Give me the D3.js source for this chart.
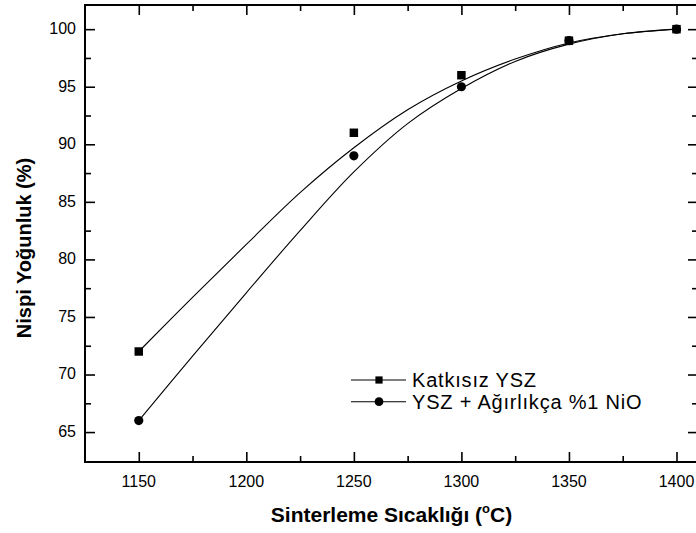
<!DOCTYPE html>
<html>
<head>
<meta charset="utf-8">
<script src="https://cdn.jsdelivr.net/npm/d3@7"></script>
<style>
  body { margin: 0; background: #fff; }
  text { font-family: Arial, "Liberation Sans", sans-serif; fill: #000; }
</style>
</head>
<body>
<div id="chart"></div>
<script>
const width = 696, height = 533

// measured points
const temps = [1150, 1250, 1300, 1350, 1400]
const katkisiz = [72, 91, 96, 99, 100]
const nio = [66, 89, 95, 99, 100]

// fitted curves
const fitTemps = [1150, 1175, 1200, 1225, 1250, 1275, 1300, 1325, 1350, 1375, 1400]
const fitKatkisiz = [72.0, 76.7, 81.3, 85.8, 89.7, 93.0, 95.5, 97.4, 98.8, 99.6, 100.0]
const fitNio = [66.0, 71.6, 77.1, 82.5, 87.6, 91.8, 94.85, 97.2, 98.7, 99.6, 100.0]

const xTicks = [1150, 1200, 1250, 1300, 1350, 1400]
const yTicks = [65, 70, 75, 80, 85, 90, 95, 100]
const legendLabels = ["Katkısız YSZ", "YSZ + Ağırlıkça %1 NiO"]

const plot = {left: 85, right: 698, top: 5, bottom: 462}

const x = d3.scaleLinear().domain([1125, 1410]).range([plot.left, plot.right])
const y = d3.scaleLinear().domain([62.4, 102.1]).range([plot.bottom, plot.top])

let svg = d3.select("#chart")
  .append("svg")
  .attr("width", width)
  .attr("height", height)

const minorX = d3.range(1150, 1401, 25).filter(v => xTicks.indexOf(v) < 0)
const minorY = d3.range(65, 101, 2.5).filter(v => yTicks.indexOf(v) < 0)

// axes: every tick points inward
function tickAxis(axisFn, scale, major, minor, shift) {
  const g = svg.append("g").attr("transform", shift)
  g.call(axisFn(scale).tickValues(major).tickSize(-10).tickFormat(""))
  g.append("g").call(axisFn(scale).tickValues(minor).tickSize(-6).tickFormat(""))
  g.selectAll(".domain").remove()
  g.selectAll("line").attr("stroke", "#000").attr("stroke-width", 1.6)
  return g
}

tickAxis(d3.axisBottom, x, xTicks, minorX, `translate(0,${plot.bottom})`)
tickAxis(d3.axisTop, x, xTicks, minorX, `translate(0,${plot.top})`)
tickAxis(d3.axisLeft, y, yTicks, minorY, `translate(${plot.left},0)`)
tickAxis(d3.axisRight, y, yTicks, minorY, `translate(${plot.right},0)`)

svg.append("rect")
  .attr("x", plot.left)
  .attr("y", plot.top)
  .attr("width", plot.right - plot.left)
  .attr("height", plot.bottom - plot.top)
  .attr("fill", "none")
  .attr("stroke", "#000")
  .attr("stroke-width", 2)

// tick labels
svg.append("g").selectAll("text")
  .data(xTicks)
  .join("text")
    .attr("x", d => x(d))
    .attr("y", 487)
    .attr("text-anchor", "middle")
    .attr("font-size", 16)
    .text(d => d)

svg.append("g").selectAll("text")
  .data(yTicks)
  .join("text")
    .attr("x", 76)
    .attr("y", d => y(d))
    .attr("dy", "0.3em")
    .attr("text-anchor", "end")
    .attr("font-size", 16)
    .text(d => d)

// axis titles
const xTitle = svg.append("text")
  .attr("x", (plot.left + plot.right) / 2)
  .attr("y", 522)
  .attr("text-anchor", "middle")
  .attr("font-size", 21)
  .attr("font-weight", "bold")
xTitle.append("tspan").text("Sinterleme Sıcaklığı (")
xTitle.append("tspan").attr("font-size", 13).attr("dy", -9).text("o")
xTitle.append("tspan").attr("dy", 9).text("C)")

svg.append("text")
  .attr("transform", "translate(31,248) rotate(-90)")
  .attr("text-anchor", "middle")
  .attr("font-size", 20)
  .attr("font-weight", "bold")
  .text("Nispi Yoğunluk (%)")

// fit curves
const line = d3.line()
  .x(d => x(d[0]))
  .y(d => y(d[1]))
  .curve(d3.curveCatmullRom.alpha(0.5))

const fits = [fitKatkisiz, fitNio]
svg.append("g").selectAll("path")
  .data(fits)
  .join("path")
    .attr("d", f => line(fitTemps.map((t, i) => [t, f[i]])))
    .attr("fill", "none")
    .attr("stroke", "#000")
    .attr("stroke-width", 1.1)

// markers
const squareSym = d3.symbol().type(d3.symbolSquare)
const circleSym = d3.symbol().type(d3.symbolCircle)

svg.append("g").selectAll("path")
  .data(temps.map((t, i) => [t, nio[i]]))
  .join("path")
    .attr("transform", d => `translate(${x(d[0])},${y(d[1])})`)
    .attr("d", circleSym.size(66))
    .attr("fill", "#000")

svg.append("g").selectAll("path")
  .data(temps.map((t, i) => [t, katkisiz[i]]))
  .join("path")
    .attr("transform", d => `translate(${x(d[0])},${y(d[1])})`)
    .attr("d", squareSym.size(72))
    .attr("fill", "#000")

// legend
const legend = svg.append("g").selectAll("g")
  .data(legendLabels)
  .join("g")
    .attr("transform", (d, i) => `translate(351,${380 + i * 21.7})`)

legend.append("line")
  .attr("x1", 0).attr("x2", 55)
  .attr("stroke", "#000")
  .attr("stroke-width", 1.1)

legend.append("path")
  .attr("transform", "translate(28,0)")
  .attr("d", (d, i) => i == 0 ? squareSym.size(52)() : circleSym.size(60)())
  .attr("fill", "#000")

legend.append("text")
  .attr("x", 61)
  .attr("y", 0)
  .attr("dy", "0.36em")
  .attr("font-size", 20)
  .attr("letter-spacing", 0.8)
  .text(d => d)
</script>
</body>
</html>
